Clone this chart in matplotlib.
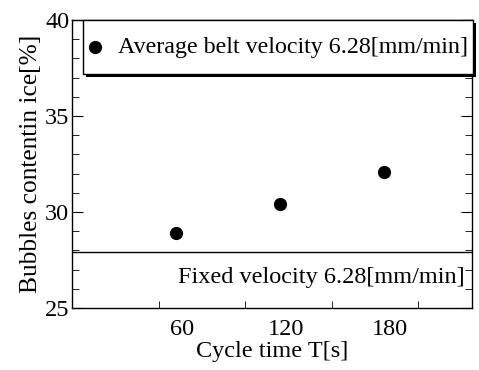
import matplotlib
matplotlib.use("Agg")
import matplotlib.pyplot as plt
from matplotlib.patches import Rectangle
from matplotlib.transforms import ScaledTranslation
from matplotlib.ticker import MultipleLocator, FixedLocator

# ── Data ──────────────────────────────────────────────────────────────────────
cycle_time = [60, 120, 180]
bubbles = [28.9, 30.4, 32.1]
fixed_level = 27.9
x_labels = ["60", "120", "180"]
series_label = "Average belt velocity 6.28[mm/min]"
fixed_label = "Fixed velocity 6.28[mm/min]"

plt.rcParams["font.family"] = ["Liberation Serif", "DejaVu Serif"]
plt.rcParams["font.size"] = 17.5

fig = plt.figure(figsize=(4.79, 3.70), dpi=100)
ax = fig.add_axes([72 / 479, 1 - 308 / 370, 400 / 479, 288 / 370])

ax.plot(cycle_time, bubbles, "o", color="black", markersize=8.5)
ax.axhline(fixed_level, color="black", lw=1)
ax.text(227, 26.6, fixed_label, ha="right", va="center")

ax.set_xlim(0, 231)
ax.set_ylim(25, 40)
ax.xaxis.set_major_locator(FixedLocator(cycle_time))
ax.set_xticklabels(x_labels)
ax.xaxis.set_minor_locator(MultipleLocator(50))
ax.yaxis.set_major_locator(MultipleLocator(5))
ax.yaxis.set_minor_locator(MultipleLocator(1))
ax.tick_params(axis="x", which="major", length=0, pad=8)
ax.tick_params(axis="x", which="minor", direction="in", length=5, top=False)
ax.tick_params(axis="y", which="both", direction="in", left=True, right=True)
ax.tick_params(axis="y", which="major", length=8, pad=2)
ax.tick_params(axis="y", which="minor", length=5)
for s in ax.spines.values():
    s.set_linewidth(1)

# x tick labels sit slightly right of the data positions in the original
shift = ScaledTranslation(6 / 100, 0, fig.dpi_scale_trans)
for lab in ax.get_xticklabels():
    lab.set_transform(lab.get_transform() + shift)

ax.set_xlabel("Cycle time T[s]", labelpad=1)
ax.set_ylabel("Bubbles contentin ice[%]", labelpad=2, fontsize=18.3)

# ── Legend box with hard black shadow ────────────────────────────────────────
bx, by, bw, bh = 0.0275, 0.8125, 0.975, 0.1875
ax.add_patch(Rectangle((bx + 0.0075, by - 0.0104), bw, bh, transform=ax.transAxes,
                       facecolor="black", edgecolor="none", clip_on=False, zorder=5))
ax.add_patch(Rectangle((bx, by), bw, bh, transform=ax.transAxes,
                       facecolor="white", edgecolor="black", lw=1, clip_on=False, zorder=6))
ax.plot([0.0575], [0.906], "o", color="black", markersize=8.5,
        transform=ax.transAxes, clip_on=False, zorder=7)
ax.text(0.114, 0.906, series_label, transform=ax.transAxes,
        ha="left", va="center", fontsize=17.3, zorder=7)

fig.savefig("out.png", dpi=100)
